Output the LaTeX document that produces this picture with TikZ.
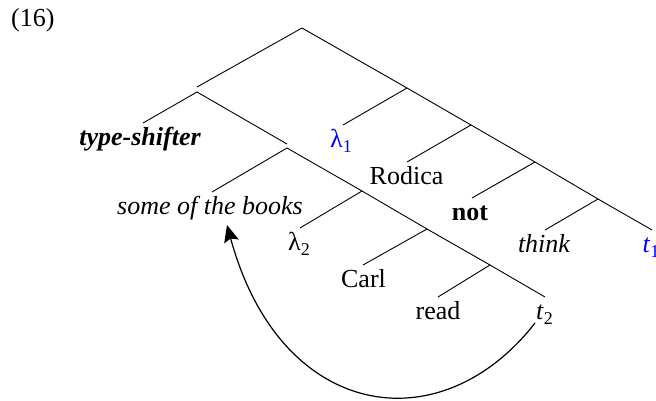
\documentclass[tikz,border=0pt]{standalone}
\usepackage{fontspec}
\setmainfont{Liberation Serif}
\usetikzlibrary{arrows.meta}
\definecolor{lblue}{RGB}{0,0,255}
\newcommand\lowsub[1]{\raisebox{-0.2em}{\fontsize{18}{18}\selectfont #1}}
\begin{document}
\begin{tikzpicture}[x=1pt,y=-1pt,
  font=\fontsize{26}{30}\selectfont,
  edge/.style={line width=0.9pt},
  leaf/.style={anchor=base, inner sep=0pt},
  movearrow/.style={line width=1.2pt, -{Stealth[length=17pt,width=15pt,inset=3pt]}}]
\useasboundingbox (0,0) rectangle (656,401);
% branch points
\coordinate (R) at (302,28);
\coordinate (Ain) at (197,87);
\coordinate (A) at (197,92);
\coordinate (B) at (407,88);
\coordinate (Cin) at (287,144);
\coordinate (C) at (287,148);
\coordinate (D) at (362,191);
\coordinate (E) at (427,229);
\coordinate (F) at (490,265);
\coordinate (G) at (471,125);
\coordinate (H) at (535,162);
\coordinate (I) at (598,199);
% leaf ends
\coordinate (ts) at (143,123);
\coordinate (sb) at (212,192);
\coordinate (l2) at (300,228);
\coordinate (ca) at (363,265);
\coordinate (rd) at (438,297);
\coordinate (tt) at (545,297);
\coordinate (l1) at (343,125);
\coordinate (ro) at (407,162);
\coordinate (nt) at (472,198);
\coordinate (th) at (545,230);
\coordinate (to) at (652,230);
% edges
\draw[edge] (R) -- (Ain);
\draw[edge] (ts) -- (A) -- (Cin);
\draw[edge] (sb) -- (C) -- (D) -- (E) -- (F) -- (tt);
\draw[edge] (l2) -- (D);
\draw[edge] (ca) -- (E);
\draw[edge] (rd) -- (F);
\draw[edge] (R) -- (B) -- (G) -- (H) -- (I) -- (to);
\draw[edge] (l1) -- (B);
\draw[edge] (ro) -- (G);
\draw[edge] (nt) -- (H);
\draw[edge] (th) -- (I);
% labels
\node[anchor=base west, inner sep=0pt] (num) at (11,27) {(16)};
\node[leaf] (Lts) at (140,145.5) {\bfseries\itshape type-shifter};
\node[leaf] (Lsb) at (210,214.5) {\itshape some of the books};
\node[leaf] (Ll2) at (299,250.5) {λ\lowsub{2}};
\node[leaf] (Lca) at (363.5,287.5) {Carl};
\node[leaf] (Lrd) at (438,319.5) {read};
\node[leaf] (Ltt) at (544.5,319.5) {\itshape t\/\upshape\lowsub{2}};
\node[leaf, text=lblue] (Ll1) at (341,147.5) {λ\lowsub{1}};
\node[leaf] (Lro) at (406.5,184.5) {Rodica};
\node[leaf] (Lnt) at (470,220.5) {\bfseries not};
\node[leaf] (Lth) at (544,252.5) {\itshape think};
\node[leaf, text=lblue] (Lto) at (651,252.5) {\itshape t\/\upshape\lowsub{1}};
% movement arrow
\coordinate (arrS) at (535,323);
\coordinate (arrE) at (227,225);
\draw[movearrow] (arrS) .. controls (440,445) and (280,420) .. (arrE);
\end{tikzpicture}
\end{document}
